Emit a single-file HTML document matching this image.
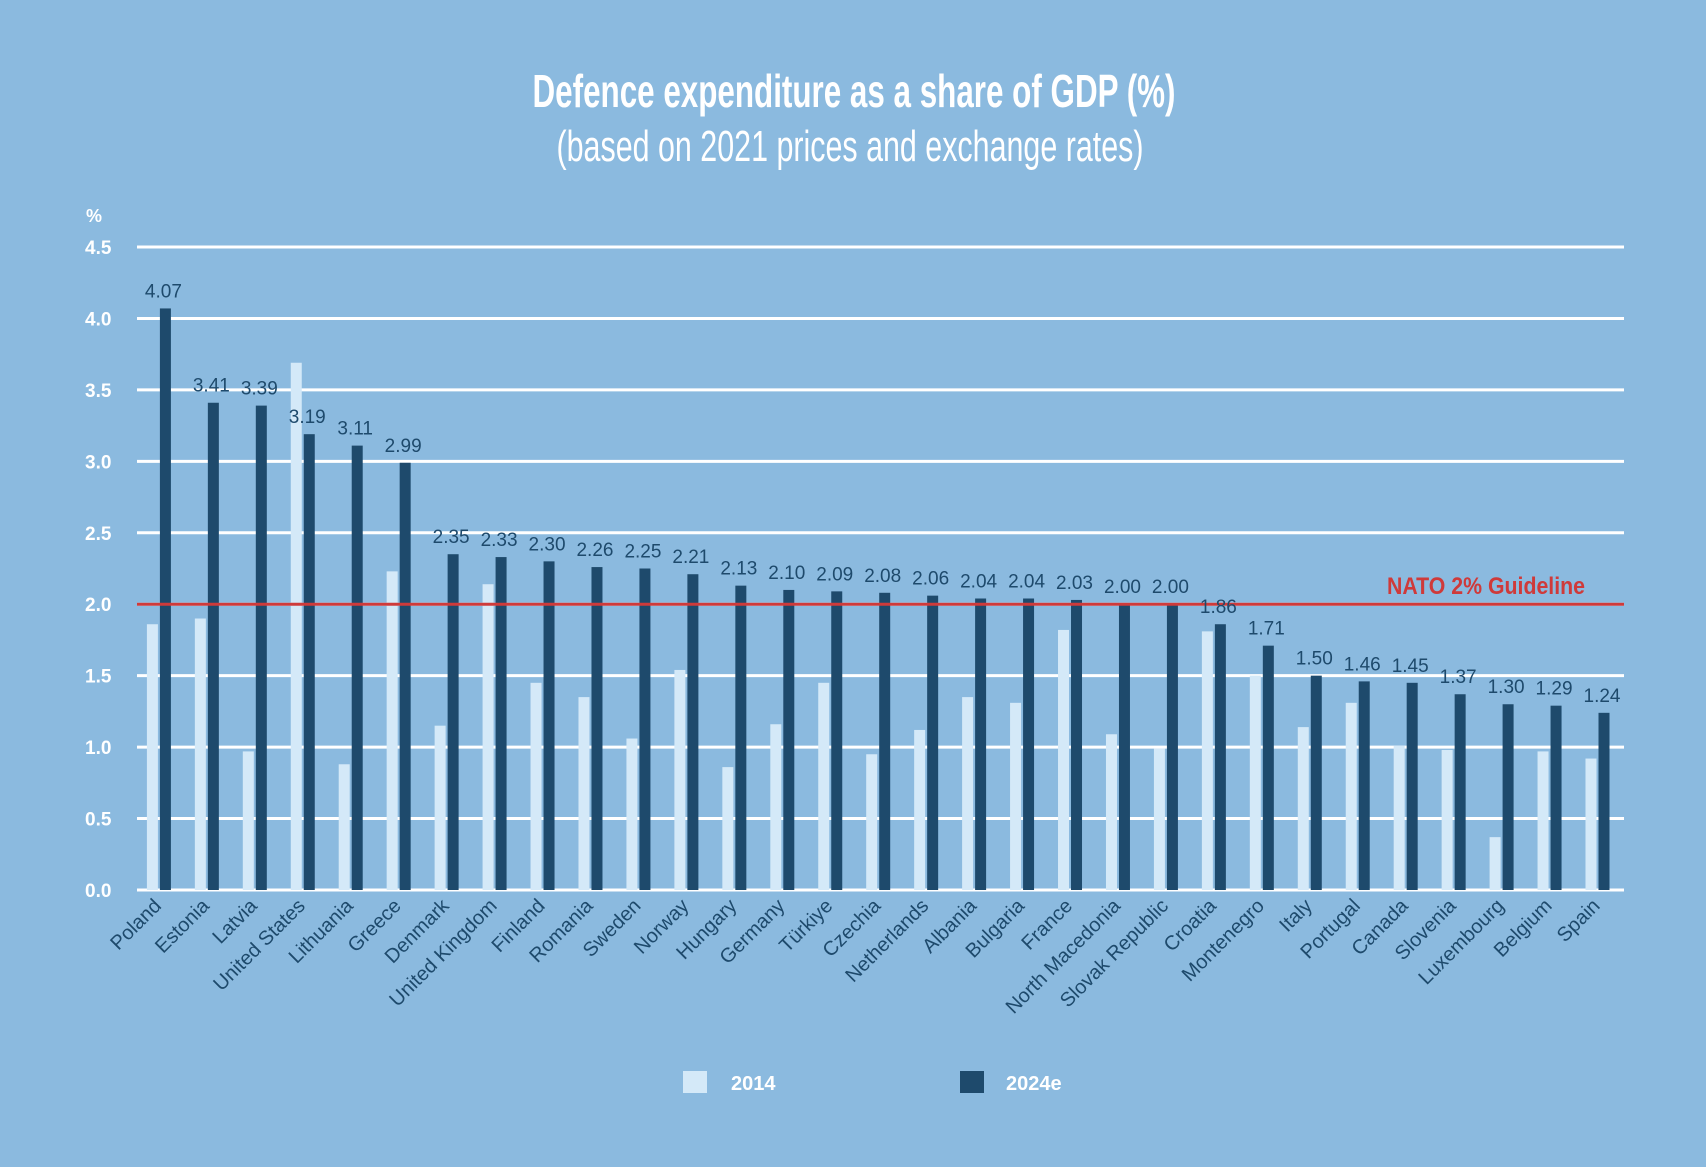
<!DOCTYPE html>
<html><head><meta charset="utf-8"><style>
html,body{margin:0;padding:0;background:#8bbadf;}
svg{display:block;font-family:"Liberation Sans",sans-serif;}
</style></head><body>
<svg id="chart" width="1706" height="1167" viewBox="0 0 1706 1167" xmlns="http://www.w3.org/2000/svg">
<rect width="1706" height="1167" fill="#8bbadf"/>
<text x="854" y="107" text-anchor="middle" fill="#fff" font-weight="bold" font-size="46" textLength="643" lengthAdjust="spacingAndGlyphs">Defence expenditure as a share of GDP (%)</text>
<text x="850" y="161" text-anchor="middle" fill="#fff" font-size="44" textLength="587" lengthAdjust="spacingAndGlyphs">(based on 2021 prices and exchange rates)</text>
<text x="86" y="222" fill="#fff" font-weight="bold" font-size="18">%</text>
<g id="grid"></g><g id="bars"></g><g id="labels"></g>
<g>
<rect x="683" y="1071" width="24" height="22" fill="#d4e9f8"/>
<text x="731" y="1090" fill="#fff" font-weight="bold" font-size="20">2014</text>
<rect x="960" y="1071" width="24" height="22" fill="#1e4a6c"/>
<text x="1006" y="1090" fill="#fff" font-weight="bold" font-size="20">2024e</text>
</g>
</svg>
<script>
const categories=["Poland","Estonia","Latvia","United States","Lithuania","Greece","Denmark","United Kingdom","Finland","Romania","Sweden","Norway","Hungary","Germany","Türkiye","Czechia","Netherlands","Albania","Bulgaria","France","North Macedonia","Slovak Republic","Croatia","Montenegro","Italy","Portugal","Canada","Slovenia","Luxembourg","Belgium","Spain"];
const values2014=[1.86,1.90,0.97,3.69,0.88,2.23,1.15,2.14,1.45,1.35,1.06,1.54,0.86,1.16,1.45,0.95,1.12,1.35,1.31,1.82,1.09,0.99,1.81,1.50,1.14,1.31,1.01,0.98,0.37,0.97,0.92];
const values2024=[4.07,3.41,3.39,3.19,3.11,2.99,2.35,2.33,2.30,2.26,2.25,2.21,2.13,2.10,2.09,2.08,2.06,2.04,2.04,2.03,2.00,2.00,1.86,1.71,1.50,1.46,1.45,1.37,1.30,1.29,1.24];
const yTicks=[0,0.5,1,1.5,2,2.5,3,3.5,4,4.5];
const guideline=2;
const NS="http://www.w3.org/2000/svg";
const X0=137,X1=1624,Y0=890,Y45=247;
const y=v=>Y0-(v/4.5)*(Y0-Y45);
const xDark=i=>165.4+i*((1604-165.4)/(categories.length-1));
function mk(tag,attrs,parent){const e=document.createElementNS(NS,tag);for(const k in attrs)e.setAttribute(k,attrs[k]);parent.appendChild(e);return e;}
const grid=document.getElementById('grid'),bars=document.getElementById('bars'),labels=document.getElementById('labels');
yTicks.forEach(t=>{
  const l=mk('line',{x1:X0,x2:X1,y1:y(t),y2:y(t),stroke:'#fff','stroke-width':3},grid);
  
  
  const tx=mk('text',{x:85,y:y(t)+7,fill:'#fff','font-size':19,'font-weight':'bold'},grid);
  tx.textContent=t.toFixed(1);
  
  
});
categories.forEach((c,i)=>{
  const xd=xDark(i);
  const b1=mk('rect',{x:xd-13-5.5,y:y(values2014[i]),width:11,height:Y0-y(values2014[i]),fill:'#d4e9f8'},bars);
  
  
  const b2=mk('rect',{x:xd-5.5,y:y(values2024[i]),width:11,height:Y0-y(values2024[i]),fill:'#1e4a6c'},bars);
  
  
  const v=mk('text',{x:xd-2,y:y(values2024[i])-11,'text-anchor':'middle',fill:'#1e4a6c','font-size':19},labels);
  v.textContent=values2024[i].toFixed(2);
  
  
  const cl=mk('text',{x:xd-3,y:907,'text-anchor':'end',fill:'#1e4a6c','font-size':20,transform:`rotate(-45 ${xd-3} 907)`},labels);
  cl.textContent=c;
  
  
});
const g=mk('line',{x1:X0,x2:X1,y1:y(guideline),y2:y(guideline),stroke:'#cf3a3a','stroke-width':3},bars);


const gt=mk('text',{x:1585,y:y(guideline)-10,'text-anchor':'end',fill:'#cf3a3a','font-size':24,'font-weight':'bold',textLength:198,lengthAdjust:'spacingAndGlyphs'},labels);
gt.textContent='NATO 2% Guideline';


</script>
</body></html>
